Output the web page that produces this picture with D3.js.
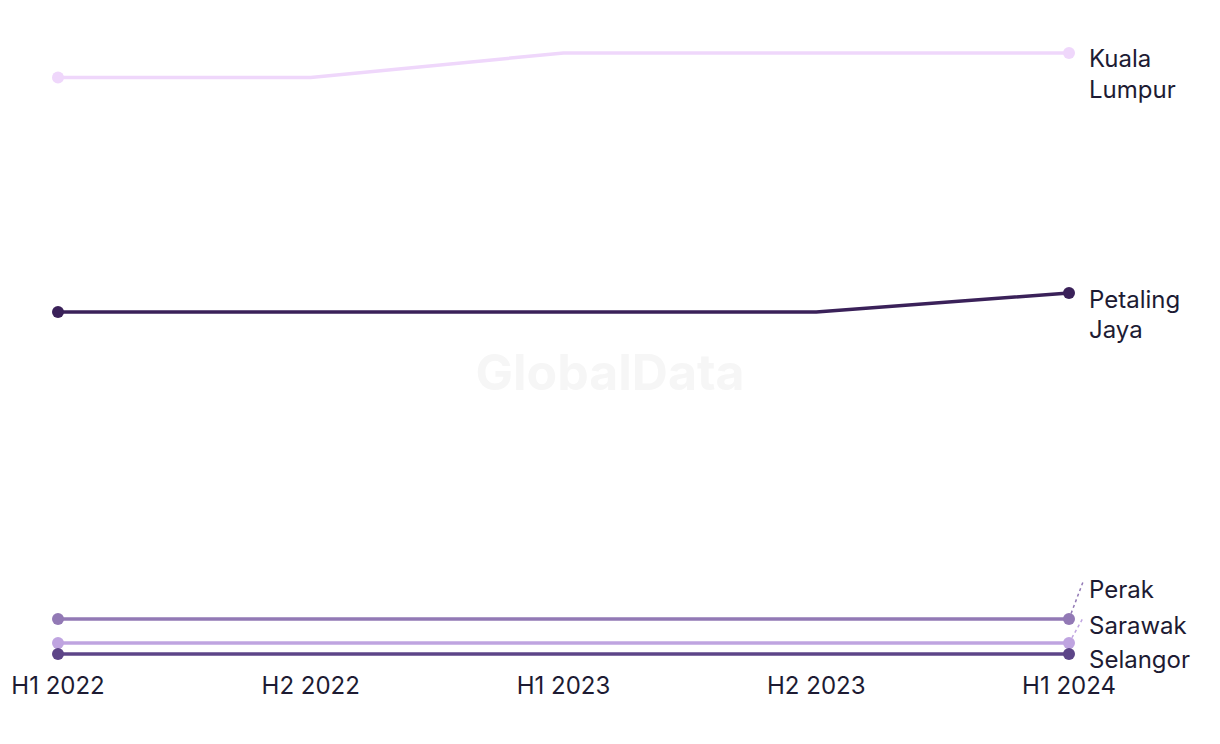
<!DOCTYPE html>
<html><head><meta charset="utf-8">
<script src="https://cdn.jsdelivr.net/npm/d3@7"></script>
<style>body{margin:0;background:#fff;font-family:Inter,"Noto Sans",sans-serif}</style>
</head><body><svg id="c" width="1220" height="744"></svg>
<script>
const periods = ["H1 2022","H2 2022","H1 2023","H2 2023","H1 2024"];
const klValues = [24, 24, 25, 25, 25];
const pjValues = [14.4, 14.4, 14.4, 14.4, 15.18];
const perakValues = [1.84, 1.84, 1.84, 1.84, 1.84];
const sarawakValues = [0.86, 0.86, 0.86, 0.86, 0.86];
const selangorValues = [0.41, 0.41, 0.41, 0.41, 0.41];
const seriesNames = ["Kuala Lumpur","Petaling Jaya","Perak","Sarawak","Selangor"];
const seriesLabels = [["Kuala","Lumpur"],["Petaling","Jaya"],["Perak"],["Sarawak"],["Selangor"]];
const seriesColors = ["#efd7fb","#3a2159","#9279b5","#bfa4e0","#5d4588"];
const allValues = [klValues, pjValues, perakValues, sarawakValues, selangorValues];

const svg = d3.select("#c");
const x = d3.scalePoint().domain(periods).range([58, 1069]);
const y = d3.scaleLinear().domain([0, 25]).range([664, 53]);

svg.append("text").attr("x", 610).attr("y", 390).attr("text-anchor","middle")
  .attr("font-size", 50).attr("font-weight", 700).attr("fill", "#f6f6f6")
  .attr("font-family","Inter, sans-serif").text("GlobalData");

const line = d3.line().x((d,i)=>x(periods[i])).y(d=>y(d));
const labelY = [[59,90],[300,330],[590],[626],[660]];

seriesNames.forEach((name, si) => {
  const vals = allValues[si];
  const col = seriesColors[si];
  svg.append("path").datum(vals).attr("d", line).attr("fill","none")
    .attr("stroke", col).attr("stroke-width", 3.5);
  [0, vals.length-1].forEach(i => {
    svg.append("circle").attr("cx", x(periods[i])).attr("cy", y(vals[i])).attr("r", 6).attr("fill", col);
  });
  const lastY = y(vals[vals.length-1]);
  const ly = labelY[si];
  if (Math.abs(ly[0] - lastY) > 12 && seriesLabels[si].length === 1) {
    svg.append("line").attr("x1", x(periods[4])).attr("y1", lastY)
      .attr("x2", 1083).attr("y2", ly[0]-8)
      .attr("stroke", col).attr("stroke-width", 1.5).attr("stroke-dasharray","3,3");
  }
  seriesLabels[si].forEach((t, k) => {
    svg.append("text").attr("x", 1089).attr("y", ly[k]).attr("dy","0.35em")
      .attr("font-size", 24).attr("fill", "#1d1b33").text(t);
  });
});

const ax = svg.append("g").attr("transform","translate(0,686)");
periods.forEach(p => {
  ax.append("text").attr("x", x(p)).attr("y", 0).attr("dy","0.35em").attr("text-anchor","middle")
    .attr("font-size", 24).attr("fill","#1d1b33").text(p);
});
</script></body></html>
